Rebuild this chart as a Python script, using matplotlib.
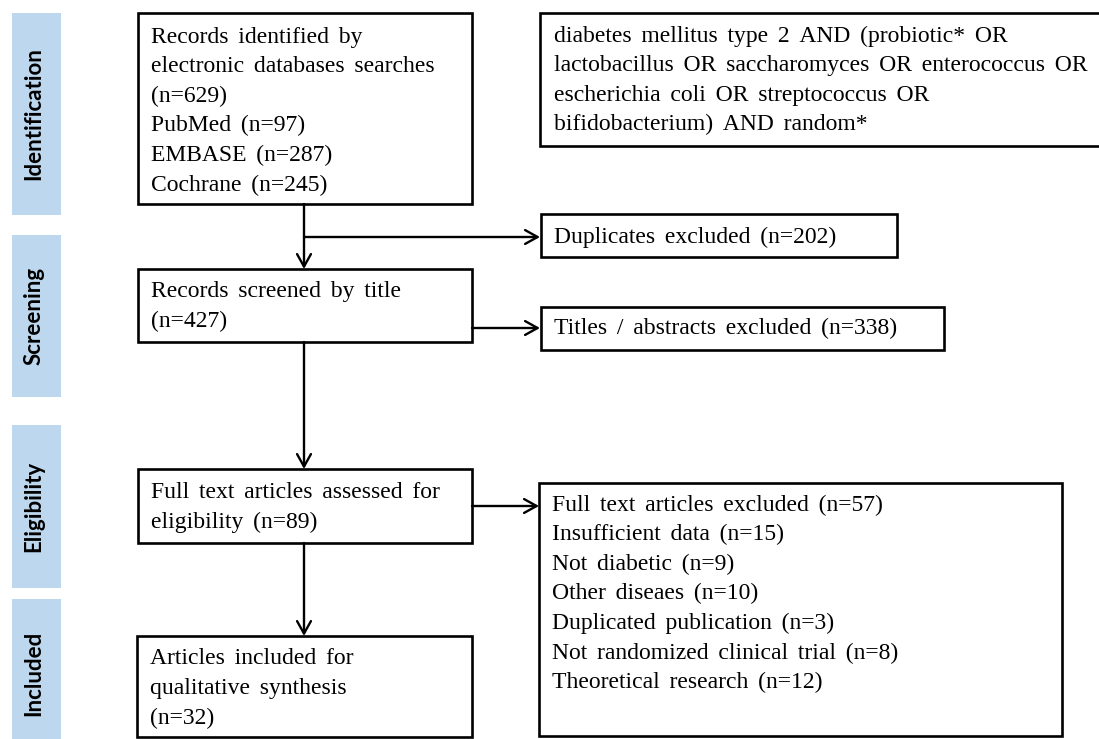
import matplotlib
matplotlib.use("Agg")
import matplotlib.pyplot as plt
from matplotlib.patches import Rectangle

# counts
n_total = 629
n_pubmed = 97
n_embase = 287
n_cochrane = 245
n_duplicates = 202
n_screened = 427
n_title_excluded = 338
n_full_text = 89
n_full_excluded = 57
n_included = 32

stages = ["Identification", "Screening", "Eligibility", "Included"]

exclusion_reasons = ["Insufficient data", "Not diabetic", "Other diseaes",
                     "Duplicated publication", "Not randomized clinical trial",
                     "Theoretical research"]
exclusion_counts = [15, 9, 10, 3, 8, 12]

search_lines = ["diabetes mellitus type 2 AND (probiotic* OR",
                "lactobacillus OR saccharomyces OR enterococcus OR",
                "escherichia coli OR streptococcus OR",
                "bifidobacterium) AND random*"]

box_texts = {
    "records": ["Records identified by",
                "electronic databases searches",
                f"(n={n_total})",
                f"PubMed (n={n_pubmed})",
                f"EMBASE (n={n_embase})",
                f"Cochrane (n={n_cochrane})"],
    "search": search_lines,
    "duplicates": [f"Duplicates excluded (n={n_duplicates})"],
    "screened": ["Records screened by title", f"(n={n_screened})"],
    "titles": [f"Titles / abstracts excluded (n={n_title_excluded})"],
    "full": ["Full text articles assessed for",
             f"eligibility (n={n_full_text})"],
    "excluded": [f"Full text articles excluded (n={n_full_excluded})"]
                + [f"{r} (n={c})" for r, c in zip(exclusion_reasons, exclusion_counts)],
    "included": ["Articles included for", "qualitative synthesis",
                 f"(n={n_included})"],
}

# layout in pixels: (x0, y0, x1, y1, text x, first line y)
layout = {
    "records": (138, 13, 472, 204, 151, 37),
    "search": (540, 13, 1110, 146, 554, 36),
    "duplicates": (541, 214, 897, 257, 554, 237),
    "screened": (138, 269, 472, 342, 151, 292),
    "titles": (541, 307, 944, 350, 554, 328),
    "full": (138, 469, 472, 543, 151, 493),
    "excluded": (539, 483, 1062, 736, 552, 505),
    "included": (137, 636, 472, 737, 150, 659),
}
line_step = 29.6

stage_spans = [(13, 215), (235, 397), (425, 588), (599, 739)]

W, H = 1099, 739
fig = plt.figure(figsize=(W / 100, H / 100), dpi=100)
ax = fig.add_axes([0, 0, 1, 1])
ax.set_xlim(0, W)
ax.set_ylim(H, 0)
ax.axis("off")

serif = ["Liberation Serif", "DejaVu Serif"]


def wide(s):
    # the original uses roomy word spacing
    return s.replace(" ", " \u2006")


for label, (y0, y1) in zip(stages, stage_spans):
    ax.add_patch(Rectangle((12, y0), 49, y1 - y0, facecolor="#BDD7EE",
                           edgecolor="none"))
    yc = (y0 + y1) / 2
    if label == "Included":
        yc += 4
    ax.text(34, yc, label, rotation=90, ha="center", va="center",
            fontsize=16, fontweight="bold", family="Lato", color="black")

for key, lines in box_texts.items():
    x0, y0, x1, y1, tx, ty = layout[key]
    ax.add_patch(Rectangle((x0, y0), x1 - x0, y1 - y0, facecolor="white",
                           edgecolor="black", lw=1.9))
    for i, line in enumerate(lines):
        ax.text(tx, ty + i * line_step, wide(line), ha="left", va="center",
                fontsize=17, family=serif, color="black")


def arrow(x0, y0, x1, y1):
    ax.annotate("", xy=(x1, y1), xytext=(x0, y0),
                arrowprops=dict(arrowstyle="->,head_length=0.45,head_width=0.25",
                                lw=1.7, color="black", shrinkA=0, shrinkB=0,
                                mutation_scale=20))


arrow(304, 204, 304, 269)
arrow(304, 237, 540, 237)
arrow(472, 328, 540, 328)
arrow(304, 342, 304, 469)
arrow(472, 506, 539, 506)
arrow(304, 543, 304, 636)

fig.savefig("out.png", dpi=100)
